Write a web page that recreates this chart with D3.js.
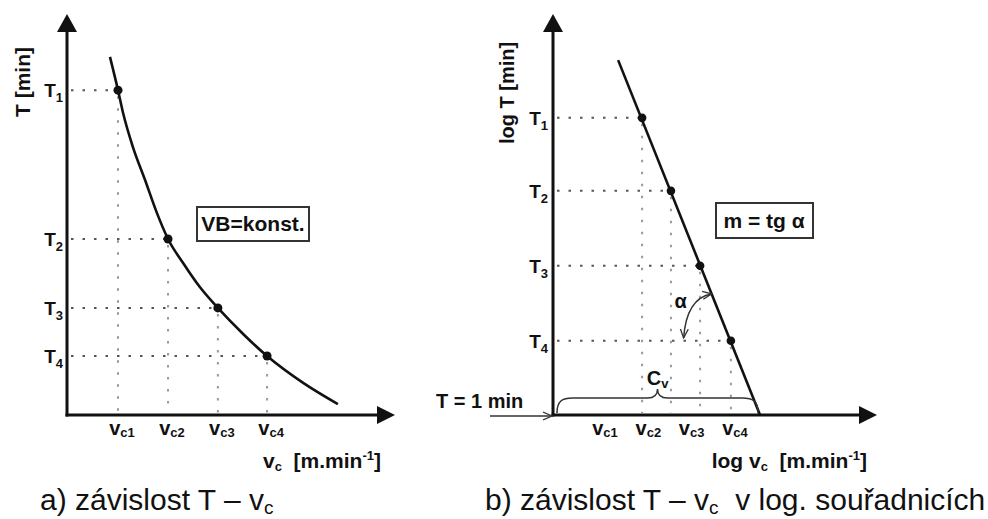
<!DOCTYPE html>
<html><head><meta charset="utf-8">
<script src="https://cdn.jsdelivr.net/npm/d3@7"></script>
<style>body{margin:0;background:#fff}svg{display:block}text{font-family:"Liberation Sans",Arial,Helvetica,sans-serif;fill:#111;white-space:pre}</style>
</head><body><svg id="c" width="988" height="519"></svg>
<script>
// ---- data (abstract units) ----
const leftCurve = [[1.31,8.93],[1.555,8.10],[1.71,7.53],[2.01,6.68],[2.38,5.86],[2.74,5.04],[3.08,4.39],[3.54,3.79],[4.05,3.19],[4.60,2.67],[5.37,2.02],[6.10,1.47],[7.20,0.80],[8.26,0.27]];
const leftVc = [1.555, 3.08, 4.60, 6.10];
const leftT  = [8.10, 4.39, 2.67, 1.47];
const rightLine = [[2.01,8.85],[6.39,0]];
const rightVc = [2.75, 3.64, 4.54, 5.49];
const rightT  = [7.41, 5.59, 3.72, 1.85];
const tSubs  = ["1","2","3","4"];
const vcSubs = ["c1","c2","c3","c4"];

const svg = d3.select("#c");
const defs = svg.append("defs");
defs.append("marker").attr("id","open").attr("viewBox","0 0 10 10").attr("refX",9).attr("refY",5)
  .attr("markerWidth",10).attr("markerHeight",10).attr("markerUnits","userSpaceOnUse").attr("orient","auto-start-reverse")
  .append("path").attr("d","M0,1 L9,5 L0,9").attr("fill","none").attr("stroke","#333").attr("stroke-width",1.3);

const xL = d3.scaleLinear([0,10],[67,395]);
const yL = d3.scaleLinear([0,10],[415,14]);
const xR = d3.scaleLinear([0,10],[553,877]);
const yR = d3.scaleLinear([0,10],[415,14]);

function subText(g, x, y, main, sub, size, subSize, anchor, dy){
  const t = g.append("text").attr("x",x).attr("y",y).attr("text-anchor",anchor||"start")
    .attr("font-size",size).attr("font-weight","bold");
  t.append("tspan").text(main);
  t.append("tspan").attr("font-size",subSize).attr("dy",dy).text(sub);
  return t;
}

function axes(g, x, y){
  const x0 = x(0), y0 = y(0);
  g.append("line").attr("x1",x0).attr("y1",y0+1.5).attr("x2",x0).attr("y2",y(10)+16)
    .attr("stroke","#111").attr("stroke-width",3);
  g.append("path").attr("d",`M${x0},${y(10)} L${x0-10},${y(10)+18} L${x0+10},${y(10)+18}Z`).attr("fill","#111");
  g.append("line").attr("x1",x0-1.5).attr("y1",y0).attr("x2",x(10)-16).attr("y2",y0)
    .attr("stroke","#111").attr("stroke-width",3);
  g.append("path").attr("d",`M${x(10)},${y0} L${x(10)-18},${y0-9} L${x(10)-18},${y0+9}Z`).attr("fill","#111");
}

function guides(g, x, y, vs, ts){
  vs.forEach((v,i)=>{
    g.append("line").attr("x1",x(0)+4).attr("x2",x(v)).attr("y1",y(ts[i])).attr("y2",y(ts[i]))
      .attr("stroke","#555").attr("stroke-width",2).attr("stroke-dasharray","2.5,9");
    g.append("line").attr("x1",x(v)).attr("x2",x(v)).attr("y1",y(ts[i])+6).attr("y2",y(0)-2)
      .attr("stroke","#999").attr("stroke-width",2).attr("stroke-dasharray","2.5,9.5");
  });
}

function unitLabel(g, x, pre){
  const t = g.append("text").attr("x",x).attr("y",468).attr("text-anchor","end").attr("font-size",21).attr("font-weight","bold");
  t.append("tspan").text(pre + "v");
  t.append("tspan").attr("font-size",13).attr("dy",3).text("c");
  t.append("tspan").attr("dy",-3).text("  [m.min");
  t.append("tspan").attr("font-size",13).attr("dy",-8).text("-1");
  t.append("tspan").attr("dy",8).text("]");
}

// ---------- left chart ----------
const gL = svg.append("g");
guides(gL, xL, yL, leftVc, leftT);
axes(gL, xL, yL);
gL.append("path").datum(leftCurve)
  .attr("d", d3.line().x(d=>xL(d[0])).y(d=>yL(d[1])).curve(d3.curveMonotoneX))
  .attr("fill","none").attr("stroke","#111").attr("stroke-width",2.6);
gL.selectAll("circle").data(leftVc).join("circle")
  .attr("cx",d=>xL(d)).attr("cy",(d,i)=>yL(leftT[i])).attr("r",4.5).attr("fill","#111");
leftT.forEach((t,i)=> subText(gL, 63, yL(t)+7, "T", tSubs[i], 19, 13, "end", 5));
leftVc.forEach((v,i)=> subText(gL, xL(v)+4, 435, "v", vcSubs[i], 20, 13, "middle", 2));
gL.append("text").attr("transform","translate(30,82) rotate(-90)").attr("text-anchor","middle")
  .attr("font-size",21).attr("font-weight","bold").text("T [min]");
unitLabel(gL, 381, "");
gL.append("rect").attr("x",197).attr("y",207).attr("width",112).attr("height",34)
  .attr("fill","#fff").attr("stroke","#333").attr("stroke-width",2);
gL.append("text").attr("x",253).attr("y",231).attr("text-anchor","middle").attr("font-size",21)
  .attr("font-weight","bold").text("VB=konst.");
{
  const t = gL.append("text").attr("x",40).attr("y",510).attr("font-size",30);
  t.append("tspan").text("a) závislost T – v");
  t.append("tspan").attr("font-size",19).attr("dy",4).text("c");
}

// ---------- right chart ----------
const gR = svg.append("g");
guides(gR, xR, yR, rightVc, rightT);
axes(gR, xR, yR);
gR.append("path").datum(rightLine)
  .attr("d", d3.line().x(d=>xR(d[0])).y(d=>yR(d[1])))
  .attr("fill","none").attr("stroke","#111").attr("stroke-width",2.6);
gR.selectAll("circle").data(rightVc).join("circle")
  .attr("cx",d=>xR(d)).attr("cy",(d,i)=>yR(rightT[i])).attr("r",4.3).attr("fill","#111");
rightT.forEach((t,i)=> subText(gR, 548, yR(t)+7, "T", tSubs[i], 19, 13, "end", 5));
const lp = d3.scalePoint(vcSubs, [605, 735]);
vcSubs.forEach(s=> subText(gR, lp(s), 435, "v", s, 20, 13, "middle", 2));
gR.append("text").attr("transform","translate(514,93) rotate(-90)").attr("text-anchor","middle")
  .attr("font-size",20).attr("font-weight","bold").text("log T [min]");
unitLabel(gR, 867, "log ");
gR.append("rect").attr("x",716).attr("y",203).attr("width",97).attr("height",35)
  .attr("fill","#fff").attr("stroke","#333").attr("stroke-width",2);
gR.append("text").attr("x",764).attr("y",228).attr("text-anchor","middle").attr("font-size",21)
  .attr("font-weight","bold").text("m = tg α");

// brace Cv
{
  const x0 = xR(0)+4, x1 = xR(rightLine[1][0])-2, ya = yR(0)-2, yb = ya-15, xm = (x0+x1)/2, yc = yb-9;
  gR.append("path").attr("d",
    `M${x0},${ya} C${x0},${yb+3} ${x0+5},${yb} ${x0+16},${yb} L${xm-10},${yb} C${xm-4},${yb} ${xm},${yb-2} ${xm},${yc} `+
    `C${xm},${yb-2} ${xm+4},${yb} ${xm+10},${yb} L${x1-16},${yb} C${x1-5},${yb} ${x1},${yb+3} ${x1},${ya}`)
    .attr("fill","none").attr("stroke","#333").attr("stroke-width",1.5);
  subText(gR, xm, 385, "C", "v", 20, 13, "middle", 3);
}
// T = 1 min arrow
gR.append("text").attr("x",436).attr("y",408).attr("font-size",20).attr("font-weight","bold").text("T = 1 min");
gR.append("line").attr("x1",490).attr("y1",416).attr("x2",xR(0)-1).attr("y2",416)
  .attr("stroke","#333").attr("stroke-width",1.5).attr("marker-end","url(#open)");
// alpha arc
{
  const ya = 3.02;
  const xa = rightLine[0][0] + (rightLine[0][1]-ya)*(rightLine[1][0]-rightLine[0][0])/(rightLine[0][1]-rightLine[1][1]);
  const sx = xR(xa), sy = yR(ya);
  gR.append("path").attr("d",`M${sx},${sy} Q${sx-25},${sy+4} ${sx-28},${sy+44}`)
    .attr("fill","none").attr("stroke","#333").attr("stroke-width",1.5)
    .attr("marker-start","url(#open)").attr("marker-end","url(#open)");
  gR.append("text").attr("x",sx-31).attr("y",sy+14).attr("text-anchor","middle").attr("font-size",20)
    .attr("font-weight","bold").text("α");
}
{
  const t = gR.append("text").attr("x",485).attr("y",510).attr("font-size",30);
  t.append("tspan").text("b) závislost T – v");
  t.append("tspan").attr("font-size",19).attr("dy",4).text("c");
  t.append("tspan").attr("dy",-4).text("  v log. souřadnicích");
}
</script></body></html>
